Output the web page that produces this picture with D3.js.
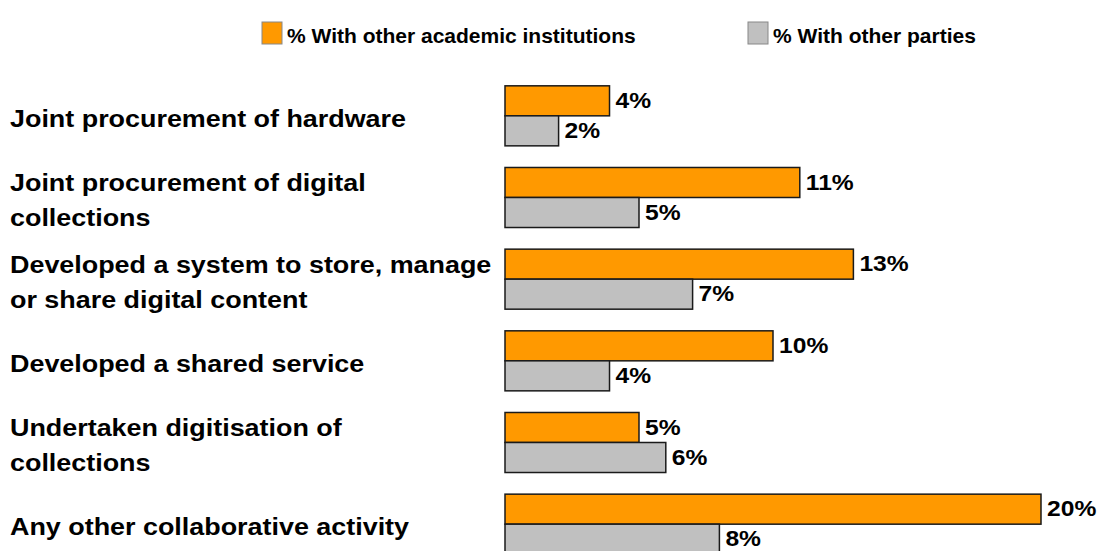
<!DOCTYPE html>
<html>
<head>
<meta charset="utf-8">
<script src="https://cdn.jsdelivr.net/npm/d3@7"></script>
<style>
  body { margin: 0; background: #fff; }
  text { font-family: "Liberation Sans", Arial, sans-serif; font-weight: bold; fill: #000; }
</style>
</head>
<body>
<script>
const categories = [
  ["Joint procurement of hardware"],
  ["Joint procurement of digital", "collections"],
  ["Developed a system to store, manage", "or share digital content"],
  ["Developed a shared service"],
  ["Undertaken digitisation of", "collections"],
  ["Any other collaborative activity"]
];
const seriesNames = ["% With other academic institutions", "% With other parties"];
const academic = [3.9, 11, 13, 10, 5, 20];
const others = [2, 5, 7, 3.9, 6, 8];

const width = 1099;
const height = 551;
const colors = ["#FF9900", "#C0C0C0"];

const svg = d3.select("body")
  .append("svg")
  .attr("width", width)
  .attr("height", height);

const xScale = d3.scaleLinear()
  .domain([0, 20])
  .range([505, 1041]);

const yScale = d3.scaleBand()
  .domain(d3.range(categories.length))
  .range([75, 565])
  .paddingInner(0.265)
  .paddingOuter(0.1325);

const inner = d3.scaleBand()
  .domain([0, 1])
  .range([0, yScale.bandwidth()]);

const rows = categories.map((c, i) => ({ i, vals: [academic[i], others[i]] }));

const groups = svg.selectAll("g.row")
  .data(rows)
  .enter()
  .append("g")
  .attr("class", "row")
  .attr("transform", d => "translate(0," + yScale(d.i) + ")");

groups.selectAll("rect")
  .data(d => d.vals.map((v, k) => ({ v, k })))
  .enter()
  .append("rect")
  .attr("x", xScale(0))
  .attr("y", d => inner(d.k))
  .attr("width", d => xScale(d.v) - xScale(0))
  .attr("height", inner.bandwidth())
  .attr("fill", d => colors[d.k])
  .attr("stroke", "#1a1a1a")
  .attr("stroke-width", 1.5);

// value labels, slightly wide like the original
groups.selectAll("text.val")
  .data(d => d.vals.map((v, k) => ({ v, k })))
  .enter()
  .append("text")
  .attr("class", "val")
  .attr("transform", d => "translate(" + (xScale(d.v) + 6) + "," + (inner(d.k) + inner.bandwidth() / 2) + ") scale(1.12,1)")
  .attr("dy", "0.33em")
  .attr("font-size", 22)
  .text(d => Math.round(d.v) + "%");

// category labels
const catText = groups.append("text")
  .attr("class", "cat")
  .attr("transform", "translate(10," + (yScale.bandwidth() / 2 + 3) + ") scale(1.17,1)")
  .attr("font-size", 23);

catText.selectAll("tspan")
  .data(d => categories[d.i].map((line, j, arr) => ({ line, j, n: arr.length })))
  .enter()
  .append("tspan")
  .attr("x", 0)
  .attr("dy", d => d.j === 0 ? (0.36 - (d.n - 1) * 0.76) + "em" : "1.52em")
  .text(d => d.line);

// legend
const legendX = [262, 748];
const legend = svg.selectAll("g.legend")
  .data(seriesNames)
  .enter()
  .append("g")
  .attr("class", "legend")
  .attr("transform", (d, i) => "translate(" + legendX[i] + ",22)");

legend.append("rect")
  .attr("width", 20)
  .attr("height", 22)
  .attr("fill", (d, i) => colors[i])
  .attr("stroke", "#888")
  .attr("stroke-width", 1);

legend.append("text")
  .attr("x", 25)
  .attr("y", 21)
  .attr("font-size", 21)
  .text(d => d);
</script>
</body>
</html>
